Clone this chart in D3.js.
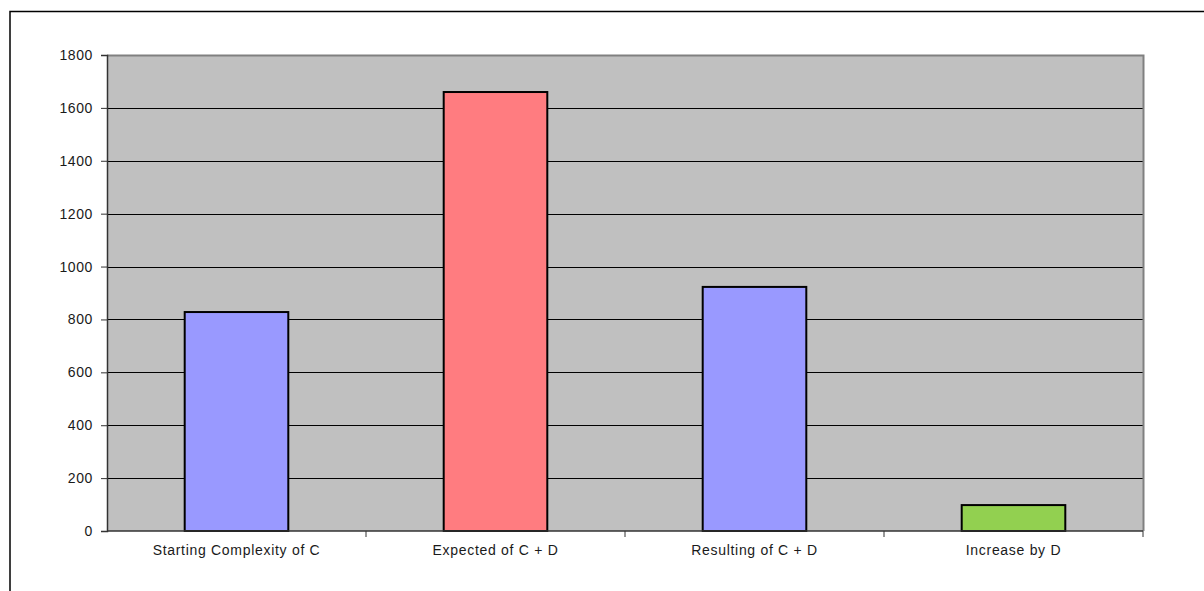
<!DOCTYPE html>
<html>
<head>
<meta charset="utf-8">
<script src="https://cdn.jsdelivr.net/npm/d3@7"></script>
<style>
  html, body { margin: 0; padding: 0; background: #fff; }
  svg { display: block; }
  text { font-family: "Liberation Sans", Arial, sans-serif; fill: #1a1a1a; }
</style>
</head>
<body>
<svg id="chart" width="1204" height="591"></svg>
<script>
// Complexity figures
const categories = ["Starting Complexity of C", "Expected of C + D", "Resulting of C + D", "Increase by D"];
const values = [828, 1660, 923, 98];
const barColors = ["#9999ff", "#ff7c80", "#9999ff", "#92d050"];
const yTicks = [0, 200, 400, 600, 800, 1000, 1200, 1400, 1600, 1800];

const svg = d3.select("#chart");
const plot = { left: 107, top: 55, right: 1143, bottom: 531 };

// Chart frame (only top and left edges fall inside the page)
svg.append("rect")
  .attr("x", 10).attr("y", 11.5)
  .attr("width", 1300).attr("height", 700)
  .attr("fill", "#fff").attr("stroke", "#000").attr("stroke-width", 1.5);

const x = d3.scaleBand()
  .domain(categories)
  .range([plot.left, plot.right])
  .paddingInner(0.6).paddingOuter(0.3);

const y = d3.scaleLinear().domain([0, 1800]).range([plot.bottom, plot.top]);

// Plot area background
svg.append("rect")
  .attr("x", plot.left).attr("y", plot.top)
  .attr("width", plot.right - plot.left).attr("height", plot.bottom - plot.top)
  .attr("fill", "#c0c0c0");

// Horizontal gridlines
svg.append("g")
  .selectAll("line")
  .data(yTicks.filter(d => d > 0 && d < 1800))
  .join("line")
  .attr("x1", plot.left).attr("x2", plot.right)
  .attr("y1", d => Math.round(y(d)) + 0.5).attr("y2", d => Math.round(y(d)) + 0.5)
  .attr("stroke", "#000").attr("stroke-width", 1);

// Plot area border on top and right
svg.append("path")
  .attr("d", `M${plot.left},${plot.top + 0.5}H${plot.right + 0.5}V${plot.bottom}`)
  .attr("fill", "none").attr("stroke", "#808080").attr("stroke-width", 2);

// Bars
svg.append("g")
  .selectAll("rect")
  .data(categories)
  .join("rect")
  .attr("x", d => x(d))
  .attr("y", (d, i) => y(values[i]))
  .attr("width", x.bandwidth())
  .attr("height", (d, i) => y(0) - y(values[i]))
  .attr("fill", (d, i) => barColors[i])
  .attr("stroke", "#000").attr("stroke-width", 2);

// Y axis
const yAxis = svg.append("g")
  .attr("transform", `translate(${plot.left},0)`)
  .call(d3.axisLeft(y).tickValues(yTicks).tickSize(6).tickPadding(8).tickFormat(d3.format("d")));
yAxis.select(".domain").attr("stroke", "#333").attr("stroke-width", 1.5);
yAxis.selectAll(".tick line").attr("stroke", "#333");
yAxis.selectAll("text")
  .attr("font-size", 14)
  .attr("letter-spacing", 0.6)
  .attr("font-family", "Liberation Sans, Arial, sans-serif")
  .attr("fill", "#1a1a1a");

// X axis with ticks at category boundaries
const xg = svg.append("g").attr("transform", `translate(0,${plot.bottom})`);
xg.append("line")
  .attr("x1", plot.left).attr("x2", plot.right)
  .attr("stroke", "#333").attr("stroke-width", 1.5);
const step = x.step();
const boundaries = categories.map((d, i) => x(d) - step * x.paddingInner() / 2 + step);
xg.selectAll(".bt")
  .data(boundaries)
  .join("line")
  .attr("class", "bt")
  .attr("x1", d => Math.round(d)).attr("x2", d => Math.round(d))
  .attr("y1", 0).attr("y2", 6)
  .attr("stroke", "#333");
xg.selectAll("text")
  .data(categories)
  .join("text")
  .attr("x", d => x(d) + x.bandwidth() / 2)
  .attr("y", 24)
  .attr("text-anchor", "middle")
  .attr("font-size", 14)
  .attr("letter-spacing", 0.7)
  .text(d => d);
</script>
</body>
</html>
